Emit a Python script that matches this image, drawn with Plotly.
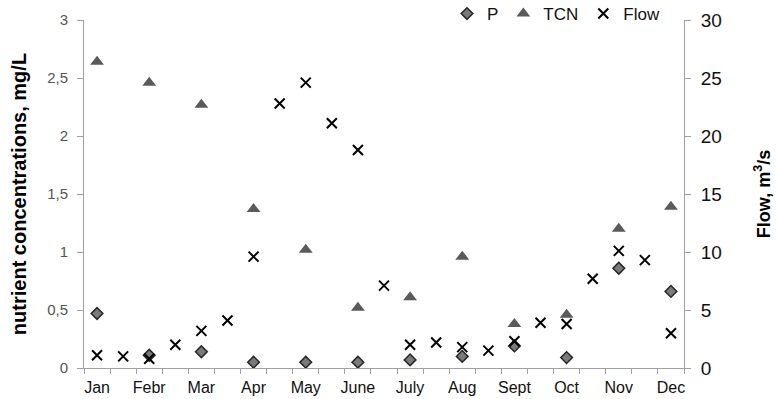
import plotly.graph_objects as go

month_labels = ["Jan", "Febr", "Mar", "Apr", "May", "June", "July", "Aug", "Sept", "Oct", "Nov", "Dec"]
# 23 sampling positions: months at even positions, intermediate samples between
p_values = [0.47, 0.11, 0.14, 0.05, 0.05, 0.05, 0.07, 0.10, 0.19, 0.09, 0.86, 0.66]
tcn_values = [2.64, 2.46, 2.27, 1.37, 1.02, 0.52, 0.61, 0.96, 0.38, 0.46, 1.20, 1.39]
flow_values = [1.1, 1.0, 0.8, 2.0, 3.2, 4.1, 9.6, 22.8, 24.6, 21.1, 18.8, 7.1,
               2.0, 2.2, 1.8, 1.5, 2.3, 3.9, 3.8, 7.7, 10.1, 9.3, 3.0]

month_pos = [2 * i for i in range(len(month_labels))]
flow_pos = list(range(len(flow_values)))

font = "Liberation Sans, Arial, sans-serif"

fig = go.Figure()
fig.add_trace(go.Scatter(
    x=month_pos, y=p_values, mode="markers", name="P",
    marker=dict(symbol="diamond", size=9, color="#7a7a7a",
                line=dict(color="#262626", width=1.5)),
))
fig.add_trace(go.Scatter(
    x=month_pos, y=tcn_values, mode="markers", name="TCN",
    marker=dict(symbol="triangle-up", size=12, color="#5a5a5a",
                line=dict(width=0)),
))
fig.add_trace(go.Scatter(
    x=flow_pos, y=flow_values, mode="markers", name="Flow", yaxis="y2",
    marker=dict(symbol="x-thin", size=10, color="black",
                line=dict(color="black", width=2)),
))
# invisible trace to hold tick-mark axis
fig.add_trace(go.Scatter(x=[-0.5, 22.5], y=[None, None], xaxis="x2",
                         showlegend=False, hoverinfo="skip"))

fig.update_layout(
    width=777, height=399,
    margin=dict(l=84, r=93, t=20, b=31, autoexpand=False),
    paper_bgcolor="white", plot_bgcolor="white",
    separators=", ",
    font=dict(family=font, size=14, color="#333"),
    showlegend=True,
    legend=dict(orientation="h", x=0.605, y=1.069,
                xanchor="left", yanchor="top",
                font=dict(size=17, color="#111"), itemwidth=30,
                tracegroupgap=0, bgcolor="rgba(0,0,0,0)"),
    xaxis=dict(range=[-0.5, 22.5], tickvals=month_pos, ticktext=month_labels,
               ticks="", showgrid=False, zeroline=False, ticklabelstandoff=5,
               automargin=False,
               showline=True, linecolor="#a0a0a0", linewidth=1,
               tickfont=dict(size=16, color="#111")),
    xaxis2=dict(range=[-0.5, 22.5], overlaying="x", side="bottom",
                tickvals=[i - 0.5 for i in range(24)], showticklabels=False,
                ticks="outside", ticklen=5, tickcolor="#a0a0a0",
                automargin=False,
                showgrid=False, zeroline=False, showline=False),
    yaxis=dict(range=[0, 3], dtick=0.5, tickformat=".1~f",
               ticks="outside", ticklen=6, tickcolor="#a0a0a0",
               ticklabelstandoff=6, automargin=False,
               showgrid=False, zeroline=False,
               showline=True, linecolor="#a0a0a0", linewidth=1,
               tickfont=dict(size=15, color="#555"),
               title=dict(text="<b>nutrient concentrations, mg/L</b>",
                          font=dict(size=20, color="black"), standoff=15)),
    yaxis2=dict(range=[0, 30], dtick=5, overlaying="y", side="right",
                ticks="outside", ticklen=6, tickcolor="#a0a0a0",
                ticklabelstandoff=6, automargin=False,
                showgrid=False, zeroline=False,
                showline=True, linecolor="#a0a0a0", linewidth=1,
                tickfont=dict(size=19, color="#111"),
                title=dict(text="<b>Flow, m<sup>3</sup>/s</b>",
                           font=dict(size=18, color="black"), standoff=36)),
)

fig.write_html("out.html")
